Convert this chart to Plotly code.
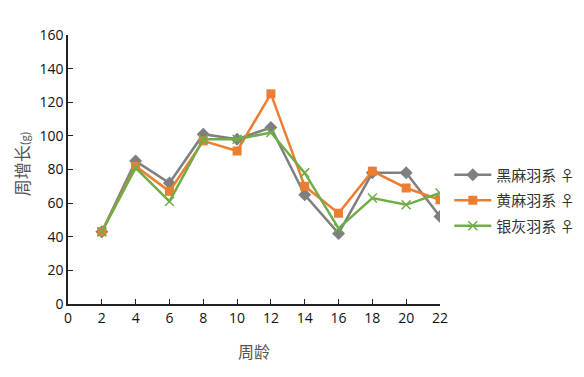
import plotly.graph_objects as go

weeks = [2, 4, 6, 8, 10, 12, 14, 16, 18, 20, 22]
black_hemp = [43, 85, 72, 101, 98, 105, 65, 42, 78, 78, 52]
yellow_hemp = [43, 82, 67, 97, 91, 125, 70, 54, 79, 69, 62]
silver_gray = [43, 81, 61, 98, 98, 102, 78, 45, 63, 59, 66]
names = ["黑麻羽系 ♀", "黄麻羽系 ♀", "银灰羽系 ♀"]
x_ticks = list(range(0, 23, 2))
y_ticks = list(range(0, 161, 20))

fig = go.Figure()
fig.add_trace(go.Scatter(x=weeks, y=black_hemp, name=names[0], mode="lines+markers",
                         legendgroup="a",
                         line=dict(color="#7f7f7f", width=2.5),
                         marker=dict(symbol="diamond", size=10, color="#7f7f7f")))
fig.add_trace(go.Scatter(x=weeks, y=yellow_hemp, name=names[1], mode="lines+markers",
                         legendgroup="b",
                         line=dict(color="#ED7D31", width=2.5),
                         marker=dict(symbol="square", size=9, color="#ED7D31")))
fig.add_trace(go.Scatter(x=weeks, y=silver_gray, name=names[2], mode="lines+markers",
                         legendgroup="c",
                         line=dict(color="#70AD47", width=2.5),
                         marker=dict(symbol="x-thin", size=9, color="#70AD47",
                                     line=dict(color="#70AD47", width=1.5))))

fig.update_layout(
    width=584, height=377,
    margin=dict(l=60, r=150, t=27, b=81),
    paper_bgcolor="white", plot_bgcolor="white",
    font=dict(family="Open Sans, Noto Sans CJK SC", color="#111", size=14),
    legend=dict(x=1.025, y=0.385, xanchor="left", yanchor="middle",
                font=dict(family="Noto Sans CJK SC", size=15, color="#333"),
                tracegroupgap=3, itemwidth=37),
    xaxis=dict(range=[0, 22], tickvals=x_ticks, ticks="inside", ticklen=5,
               tickcolor="#222", showline=True, linecolor="#222", linewidth=1.5,
               showgrid=False, zeroline=False, automargin=False,
               title=dict(text="周龄", font=dict(family="Noto Sans CJK SC", size=16, color="#555"),
                          standoff=21)),
    yaxis=dict(range=[0, 160], tickvals=y_ticks, ticks="inside", ticklen=5,
               tickcolor="#222", showline=True, linecolor="#222", linewidth=1.5,
               showgrid=False, zeroline=False, automargin=False),
    annotations=[dict(text="周增长<span style='font-size:11px'>(g)</span>",
                      xref="paper", yref="paper", x=-0.126, y=0.52,
                      xanchor="center", yanchor="middle", textangle=-90,
                      showarrow=False,
                      font=dict(family="Noto Sans CJK SC", size=17, color="#555"))],
)
fig.write_html("out.html")
